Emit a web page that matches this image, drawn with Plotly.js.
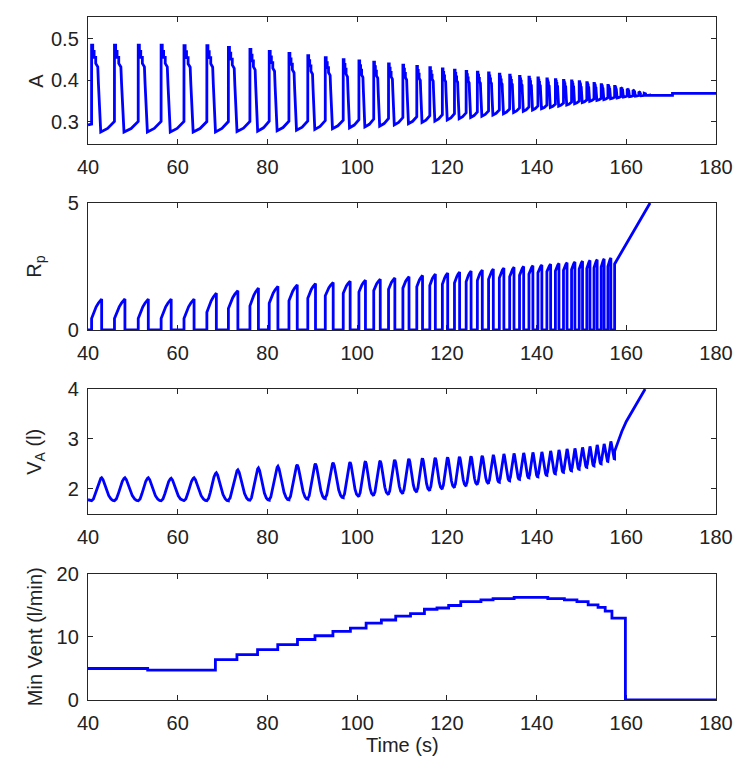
<!DOCTYPE html>
<html><head><meta charset="utf-8">
<script src="https://cdn.plot.ly/plotly-3.0.1.min.js"></script>
<style>html,body{margin:0;padding:0;background:#fff}#chart{width:750px;height:771px}</style>
</head><body><div id="chart"></div>
<script>
// ---- data ----
const xTicks = [40, 60, 80, 100, 120, 140, 160, 180];
// breath onsets (s)
const breathOnset = [40.8, 45.9, 51.2, 56.3, 61.4, 66.5, 71.3, 76.1, 80.4, 84.8, 89.0, 92.9, 96.9, 100.4, 103.7, 107.0, 110.2, 113.3, 116.2, 119.0, 121.7, 124.3, 126.8, 129.3, 131.7, 134.0, 136.2, 138.3, 140.3, 142.3, 144.2, 146.0, 147.8, 149.5, 151.2, 152.8, 154.4, 155.9, 157.4, 158.8, 160.2, 161.5, 162.8, 164.0];

// Panel A: per-breath peak and trough
const aPeak = [0.485, 0.485, 0.485, 0.485, 0.484, 0.484, 0.48, 0.475, 0.47, 0.465, 0.46, 0.455, 0.45, 0.447, 0.444, 0.44, 0.437, 0.434, 0.431, 0.428, 0.425, 0.422, 0.42, 0.418, 0.415, 0.413, 0.41, 0.408, 0.406, 0.404, 0.402, 0.4, 0.399, 0.397, 0.395, 0.393, 0.39, 0.388, 0.386, 0.383, 0.38, 0.377, 0.373, 0.369];
const aTrough = [0.276, 0.276, 0.276, 0.276, 0.276, 0.276, 0.277, 0.278, 0.279, 0.28, 0.282, 0.284, 0.286, 0.288, 0.29, 0.293, 0.296, 0.299, 0.302, 0.305, 0.308, 0.311, 0.314, 0.317, 0.32, 0.323, 0.326, 0.329, 0.332, 0.335, 0.338, 0.341, 0.344, 0.347, 0.35, 0.352, 0.354, 0.356, 0.358, 0.36, 0.361, 0.362, 0.363, 0.364];
// typical A breath shape (fraction of period, fraction of trough->peak span)
const aShapeF = [0, 0.05, 0.05, 0.11, 0.11, 0.18, 0.18, 0.27, 0.3, 0.34, 0.4, 0.7, 0.9, 0.97, 0.999];
const aShapeL = [1, 1, 0.93, 0.93, 0.86, 0.86, 0.79, 0.75, 0.55, 0.3, 0, 0.04, 0.09, 0.11, 0.12];
const aStartT = [40, 40.8], aStartV = [0.293, 0.295];
const aTailT = [165.2, 170.3, 170.3, 180], aTailV = [0.364, 0.364, 0.369, 0.369];

// Panel Rp: per-breath jump and peak (38 breaths with pulses)
const rpJump = [0.45, 0.45, 0.45, 0.45, 0.45, 0.7, 0.85, 0.95, 1.05, 1.15, 1.25, 1.35, 1.45, 1.5, 1.55, 1.6, 1.65, 1.7, 1.75, 1.8, 1.85, 1.9, 1.95, 2.0, 2.05, 2.1, 2.15, 2.2, 2.25, 2.3, 2.32, 2.35, 2.38, 2.4, 2.42, 2.45, 2.48, 2.5];
const rpPeak = [1.22, 1.22, 1.22, 1.22, 1.22, 1.45, 1.55, 1.65, 1.72, 1.78, 1.83, 1.87, 1.92, 1.96, 2.0, 2.05, 2.1, 2.15, 2.2, 2.24, 2.28, 2.32, 2.36, 2.4, 2.44, 2.47, 2.5, 2.53, 2.56, 2.59, 2.62, 2.65, 2.68, 2.71, 2.74, 2.77, 2.8, 2.83];
const rpShapeF = [0, 0, 0.1, 0.2, 0.3, 0.4, 0.44, 0.44, 0.999];
const rpShapeL = [0, 0, 0.35, 0.6, 0.8, 0.95, 1, -1, -1]; // -1 = back to zero
const rpStartT = [40, 40.8], rpStartV = [0, 0];
const rpTailT = [157.4, 157.4, 165.3], rpTailV = [0, 2.6, 5.0];

// Panel VA: per-breath trough and peak
const vaTrough = [1.76, 1.76, 1.76, 1.76, 1.76, 1.76, 1.77, 1.77, 1.78, 1.79, 1.8, 1.82, 1.84, 1.86, 1.88, 1.9, 1.93, 1.96, 1.99, 2.02, 2.05, 2.08, 2.1, 2.13, 2.16, 2.19, 2.22, 2.24, 2.27, 2.3, 2.33, 2.36, 2.39, 2.43, 2.46, 2.5, 2.55, 2.6];
const vaPeak = [2.22, 2.22, 2.22, 2.21, 2.22, 2.32, 2.38, 2.42, 2.45, 2.48, 2.5, 2.52, 2.53, 2.55, 2.56, 2.58, 2.6, 2.61, 2.62, 2.63, 2.64, 2.65, 2.66, 2.68, 2.7, 2.71, 2.72, 2.73, 2.74, 2.76, 2.78, 2.8, 2.81, 2.83, 2.85, 2.88, 2.9, 2.95];
const vaShapeF = [0, 0.08, 0.16, 0.25, 0.33, 0.4, 0.44, 0.5, 0.58, 0.66, 0.75, 0.85, 0.93, 0.999];
const vaShapeL = [0, 0.08, 0.3, 0.6, 0.85, 0.97, 1, 0.92, 0.7, 0.45, 0.22, 0.07, 0.01, 0];
const vaStartT = [40, 40.8], vaStartV = [1.78, 1.76];
const vaTailT = [157.4, 158.2, 159, 160, 161, 162, 163, 164.2], vaTailV = [2.75, 2.95, 3.15, 3.35, 3.5, 3.65, 3.82, 4.0];

// Panel Min Vent (step function)
const mvT = [40, 53.3, 68.4, 73.2, 77.8, 82.3, 86.7, 90.6, 94.6, 98.5, 102, 105.4, 108.6, 111.9, 115, 117.8, 120.4, 123.1, 127.6, 130.3, 135, 142.5, 146.2, 149, 151.5, 153.7, 155.3, 156.8, 159.8, 180];
const mvV = [5.0, 4.75, 6.4, 7.2, 8.0, 8.8, 9.6, 10.2, 10.9, 11.4, 12.2, 12.7, 13.3, 13.7, 14.4, 14.6, 15.0, 15.6, 15.9, 16.1, 16.3, 16.1, 15.9, 15.6, 15.1, 14.7, 14.1, 13.0, 0, 0];

// ---- build paths from per-breath readings ----
function buildPath(startT, startV, onsets, n, lo, hi, shF, shL, tailT, tailV, zeroBase) {
  const x = startT.slice(), y = startV.slice();
  for (let i = 0; i < n; i++) {
    const t0 = onsets[i];
    const P = (i + 1 < onsets.length ? onsets[i + 1] : t0 + (t0 - onsets[i - 1])) - t0;
    for (let k = 0; k < shF.length; k++) {
      x.push(t0 + shF[k] * P);
      if (zeroBase) {
        if (shL[k] < 0 || k === 0) y.push(0);
        else if (k === 1) y.push(lo[i]);
        else y.push(lo[i] + (hi[i] - lo[i]) * shL[k]);
      } else {
        y.push(lo[i] + (hi[i] - lo[i]) * shL[k]);
      }
    }
  }
  return {x: x.concat(tailT), y: y.concat(tailV)};
}
const aPath = buildPath(aStartT, aStartV, breathOnset, aPeak.length, aTrough, aPeak, aShapeF, aShapeL, aTailT, aTailV, false);
const rpPath = buildPath(rpStartT, rpStartV, breathOnset, rpPeak.length, rpJump, rpPeak, rpShapeF, rpShapeL, rpTailT, rpTailV, true);
const vaPath = buildPath(vaStartT, vaStartV, breathOnset, vaPeak.length, vaTrough, vaPeak, vaShapeF, vaShapeL, vaTailT, vaTailV, false);

const blue = '#0000ff';
const lw = 2.8;
const traces = [
  {x: aPath.x, y: aPath.y, xaxis: 'x', yaxis: 'y', mode: 'lines', line: {color: blue, width: lw}},
  {x: rpPath.x, y: rpPath.y, xaxis: 'x2', yaxis: 'y2', mode: 'lines', line: {color: blue, width: lw}},
  {x: vaPath.x, y: vaPath.y, xaxis: 'x3', yaxis: 'y3', mode: 'lines', line: {color: blue, width: lw}},
  {x: mvT, y: mvV, xaxis: 'x4', yaxis: 'y4', mode: 'lines', line: {color: blue, width: lw, shape: 'hv'}}
];

const font = {family: 'Liberation Sans, Arial, sans-serif', size: 20, color: '#222'};
function xAx(anchor) {
  return {anchor: anchor, range: [40, 180], tickvals: xTicks, ticktext: xTicks.map(String),
    ticks: 'inside', ticklen: 5, tickwidth: 1, tickcolor: '#262626', mirror: 'ticks',
    showline: true, linecolor: '#262626', linewidth: 1.2, showgrid: false, zeroline: false,
    tickfont: font, ticklabelstandoff: 5, layer: 'below traces'};
}
function yAx(anchor, dom, rng, tv) {
  return {anchor: anchor, domain: dom, range: rng, tickvals: tv, ticktext: tv.map(String),
    ticks: 'inside', ticklen: 5, tickwidth: 1, tickcolor: '#262626', mirror: 'ticks',
    showline: true, linecolor: '#262626', linewidth: 1.2, showgrid: false, zeroline: false,
    tickfont: font, ticklabelstandoff: 4, layer: 'below traces'};
}
const titles = ['A', 'R<sub>p</sub>', 'V<sub>A</sub> (l)', 'Min Vent (l/min)'];
const titleY = [0.907, 0.6347, 0.3638, 0.0923];
const layout = {
  width: 750, height: 771, showlegend: false,
  paper_bgcolor: '#fff', plot_bgcolor: '#fff',
  margin: {l: 88, r: 34, t: 17, b: 71},
  font: font,
  xaxis: xAx('y'), xaxis2: xAx('y2'), xaxis3: xAx('y3'), xaxis4: xAx('y4'),
  yaxis: yAx('x', [0.8141, 1], [0.247, 0.553], [0.3, 0.4, 0.5]),
  yaxis2: yAx('x2', [0.5417, 0.7277], [0, 5], [0, 5]),
  yaxis3: yAx('x3', [0.2723, 0.4553], [1.493, 4], [2, 3, 4]),
  yaxis4: yAx('x4', [0, 0.1845], [0, 20], [0, 10, 20]),
  annotations: titles.map((t, i) => ({text: t, xref: 'paper', yref: 'paper', x: -0.084, y: titleY[i],
    xanchor: 'center', yanchor: 'middle', textangle: -90, showarrow: false, font: font}))
    .concat([{text: 'Time (s)', xref: 'paper', yref: 'paper', x: 0.5, y: -0.066, xanchor: 'center', yanchor: 'middle', showarrow: false, font: font}])
};
Plotly.newPlot('chart', traces, layout, {staticPlot: true});
</script>
</body></html>
